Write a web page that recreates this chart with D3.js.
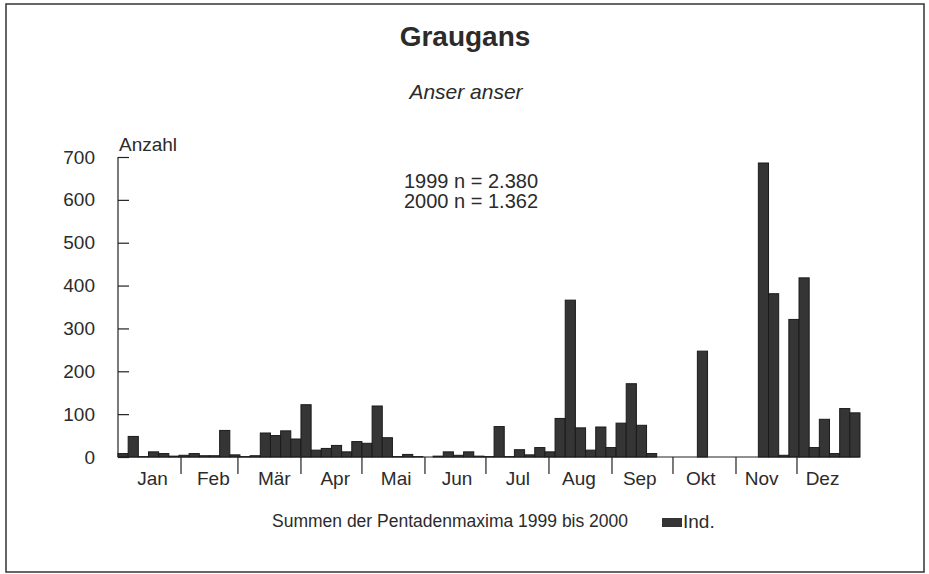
<html>
<meta charset="utf-8">
<head>
  <title>Graugans</title>
  <style>
    body, html {
      margin: 0;
      padding: 0;
      background: white;
    }
    text {
      font-family: 'Liberation Sans', Arial, sans-serif;
      fill: #2b2b2b;
    }
    .y_axis path { display: none; }
    .y_axis line {
      stroke: #222;
      stroke-width: 1.2;
    }
    .y_axis text {
      font-size: 19px;
      fill: #2b2b2b;
    }
    .bars rect {
      fill: #353535;
      stroke: #1b1b1b;
      stroke-width: 1;
    }
  </style>
  <script src="https://d3js.org/d3.v7.min.js"></script>
</head>
<body>
<div id="chart"></div>
<script>
// month names and their lengths in days (pentads run over 365 days)
var months = ["Jan", "Feb", "Mär", "Apr", "Mai", "Jun", "Jul", "Aug", "Sep", "Okt", "Nov", "Dez"];
var month_days = [31, 28, 31, 30, 31, 30, 31, 31, 30, 31, 30, 31];

// summed pentad maxima 1999 + 2000, 73 pentads
var pentad_values = [
  8, 48, 1, 12, 8, 2,
  4, 8, 3, 3, 62, 5,
  1, 3, 56, 50, 61, 42,
  122, 16, 20, 27, 12, 36,
  32, 119, 45, 1, 6, 1,
  0, 2, 12, 4, 12, 2,
  1, 71, 1, 17, 5, 22,
  12, 90, 366, 68, 16, 70,
  22, 79, 171, 74, 8, 0,
  0, 0, 0, 247, 0, 0,
  0, 0, 0, 686, 381, 4,
  321, 418, 22, 88, 8, 113,
  103
];

var y_ticks = [0, 100, 200, 300, 400, 500, 600, 700];
var n_lines = ["1999 n = 2.380", "2000 n = 1.362"];

var W = 929, H = 574;

var svg = d3.select("#chart")
            .append("svg")
            .attr("width", W)
            .attr("height", H);

// outer frame
svg.append("rect")
   .attr("x", 6).attr("y", 4)
   .attr("width", 918).attr("height", 568)
   .attr("fill", "none")
   .attr("stroke", "#333")
   .attr("stroke-width", 1.5);

var scale_x_day = d3.scaleLinear().domain([0, 365]).range([118, 860]);
var scale_y = d3.scaleLinear().domain([0, 700]).range([457, 157]);
var scale_x_label = d3.scaleBand().domain(months).range([122, 853]);

// bars
var bars = svg.append("g").attr("class", "bars");
bars.selectAll("rect")
    .data(pentad_values.map(function(v, i) { return { i: i, v: v }; })
                       .filter(function(d) { return d.v > 0; }))
    .enter()
    .append("rect")
    .attr("x", function(d) { return scale_x_day(d.i * 5); })
    .attr("width", function(d) { return scale_x_day(d.i * 5 + 5) - scale_x_day(d.i * 5); })
    .attr("y", function(d) { return scale_y(d.v); })
    .attr("height", function(d) { return scale_y(0) - scale_y(d.v); });

// y axis, ticks crossing the axis line
var y_axis = d3.axisLeft(scale_y)
               .tickValues(y_ticks)
               .tickSize(11)
               .tickPadding(12);

var y_g = svg.append("g")
             .attr("class", "y_axis")
             .attr("transform", "translate(118,0)")
             .call(y_axis);
y_g.selectAll(".tick line").attr("x2", 11);

svg.append("line")
   .attr("x1", 118).attr("x2", 118)
   .attr("y1", scale_y(700)).attr("y2", scale_y(0))
   .attr("stroke", "#222").attr("stroke-width", 1.2);

// x baseline
svg.append("line")
   .attr("x1", 118).attr("x2", 860)
   .attr("y1", scale_y(0)).attr("y2", scale_y(0))
   .attr("stroke", "#222").attr("stroke-width", 1.2);

// month dividers
var cum_days = d3.cumsum(month_days).slice(0, 11);
svg.selectAll(".divider")
   .data(cum_days)
   .enter()
   .append("line")
   .attr("class", "divider")
   .attr("x1", function(d) { return scale_x_day(d); })
   .attr("x2", function(d) { return scale_x_day(d); })
   .attr("y1", scale_y(0))
   .attr("y2", scale_y(0) + 17)
   .attr("stroke", "#222").attr("stroke-width", 1.2);

svg.selectAll(".month")
   .data(months)
   .enter()
   .append("text")
   .attr("class", "month")
   .attr("x", function(d) { return scale_x_label(d) + scale_x_label.bandwidth() / 2; })
   .attr("y", 485)
   .attr("text-anchor", "middle")
   .style("font-size", "19px")
   .text(function(d) { return d; });

// titles
svg.append("text")
   .attr("x", 465).attr("y", 46)
   .attr("text-anchor", "middle")
   .style("font-size", "28px")
   .style("font-weight", "bold")
   .text("Graugans");

svg.append("text")
   .attr("x", 466).attr("y", 99)
   .attr("text-anchor", "middle")
   .style("font-size", "21px")
   .style("font-style", "italic")
   .text("Anser anser");

svg.append("text")
   .attr("x", 119).attr("y", 151)
   .style("font-size", "19px")
   .text("Anzahl");

svg.selectAll(".nline")
   .data(n_lines)
   .enter()
   .append("text")
   .attr("class", "nline")
   .attr("x", 471)
   .attr("y", function(d, i) { return 188 + i * 20; })
   .attr("text-anchor", "middle")
   .style("font-size", "20px")
   .text(function(d) { return d; });

// legend
svg.append("text")
   .attr("x", 272).attr("y", 527)
   .style("font-size", "17.5px")
   .text("Summen der Pentadenmaxima 1999 bis 2000");

svg.append("rect")
   .attr("x", 662).attr("y", 518)
   .attr("width", 20).attr("height", 9)
   .attr("fill", "#353535");

svg.append("text")
   .attr("x", 683).attr("y", 528)
   .style("font-size", "19px")
   .text("Ind.");
</script>
</body>
</html>
